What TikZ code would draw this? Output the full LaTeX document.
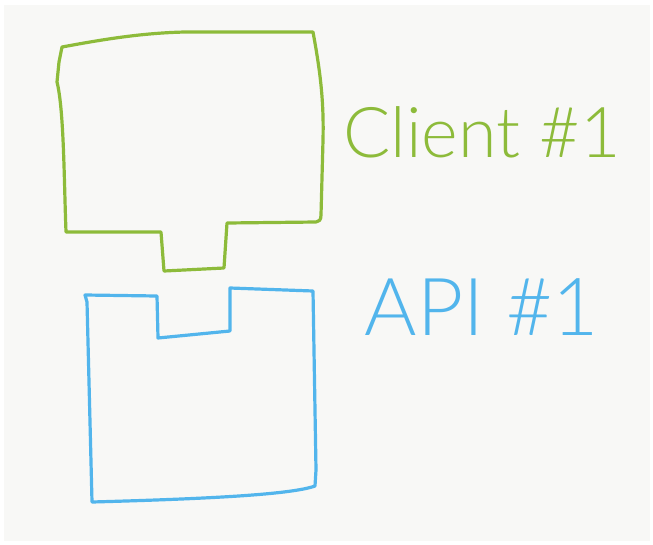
\documentclass[tikz,border=0pt]{standalone}
\usepackage{fontspec}
\setmainfont{Lato}[UprightFont=* Light]
\definecolor{markergreen}{HTML}{8DBB3A}
\definecolor{markerblue}{HTML}{52B5EC}
\definecolor{board}{HTML}{F8F8F6}
\begin{document}
\begin{tikzpicture}[x=1pt,y=-1pt,line join=round,line cap=round]
        \tikzstyle{marker}=[line width=3.2pt]
        \tikzstyle{scrawl}=[inner sep=0pt,anchor=center]
        \useasboundingbox(0,0)rectangle(653,544);
        \fill[white](0,0)rectangle(653,544);
        \fill[board](4,5)rectangle(650,541);
        % client piece, tab pointing down
        \draw[marker,markergreen]
            (62,47)..controls(100,40)and(140,33)..(185,32)--(313,32)
            ..controls(320,70)and(324,100)..(323,140)
            --(321,215)..controls(321,220)and(319,222)..(316,222)
            --(227,223)--(224,268)--(164,271)--(161,232)--(66,232)
            ..controls(64,180)and(64,110)..(57,82)--(59,62)--cycle;
        % api piece, notch at the top
        \draw[marker,markerblue]
            (85,295)--(157,296)--(158,338)--(230,331)--(230,288)
            --(313,291)--(316,470)--(315,486)
            ..controls(290,495)and(200,499)..(92,502)
            --(87,302)--cycle;
        \node[scrawl,markergreen,font=\fontsize{70}{70}\selectfont] (client) at (482,132) {Client \#1};
        \node[scrawl,markerblue,font=\fontsize{80}{80}\selectfont] (api) at (482,307) {API \#1};
\end{tikzpicture}
\end{document}
